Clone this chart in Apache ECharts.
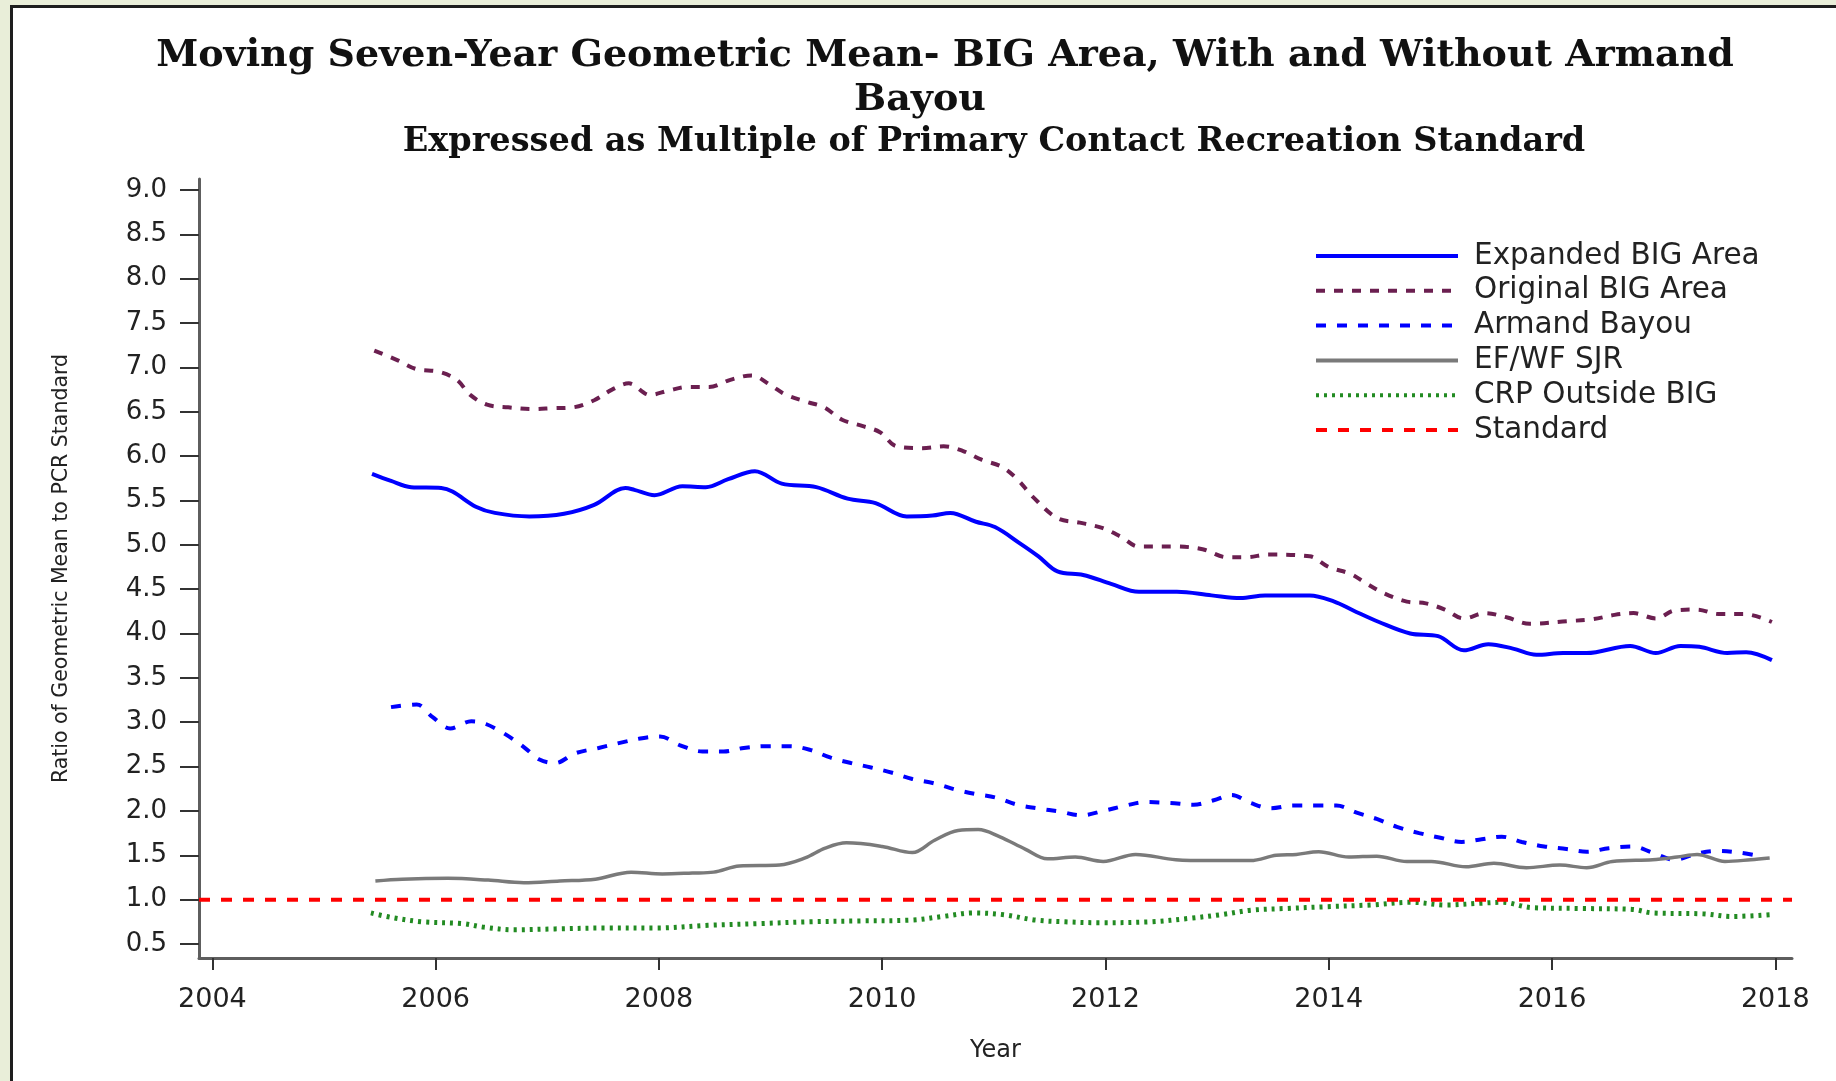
<!DOCTYPE html>
<html>
<head>
<meta charset="utf-8">
<title>Moving Seven-Year Geometric Mean</title>
<script src="https://cdn.jsdelivr.net/npm/echarts@6/dist/echarts.min.js"></script>
<style>
  html, body { margin: 0; padding: 0; background: #e9eed9; overflow: hidden; }
  #panel { position: absolute; left: 10px; top: 5px; width: 1900px; height: 1200px; background: #fff; border: 3px solid #1e1e1e; }
  #chart { position: absolute; left: 0; top: 0; width: 1836px; height: 1081px; }
</style>
</head>
<body>
<div id="panel"></div>
<div id="chart"></div>
<script>
  // axis ticks
  var yearTicks = [2004, 2006, 2008, 2010, 2012, 2014, 2016, 2018]
  var ratioTicks = [0.5, 1.0, 1.5, 2.0, 2.5, 3.0, 3.5, 4.0, 4.5, 5.0, 5.5, 6.0, 6.5, 7.0, 7.5, 8.0, 8.5, 9.0]

  // Expanded BIG Area
  var expandedYears = [2005.43, 2005.6, 2005.78, 2006.05, 2006.15, 2006.36, 2006.53, 2006.84, 2007.15, 2007.42,
    2007.70, 2007.78, 2007.96, 2008.21, 2008.42, 2008.62, 2008.86, 2009.10, 2009.41, 2009.69,
    2009.94, 2010.22, 2010.45, 2010.61, 2010.84, 2011.01, 2011.23, 2011.40, 2011.57, 2011.80,
    2012.05, 2012.30, 2012.64, 2012.95, 2013.21, 2013.43, 2013.83, 2014.05, 2014.22, 2014.45,
    2014.73, 2014.98, 2015.21, 2015.43, 2015.65, 2015.86, 2016.10, 2016.31, 2016.70, 2016.93,
    2017.15, 2017.32, 2017.57, 2017.74, 2017.97]
  var expandedValues = [5.80, 5.72, 5.65, 5.64, 5.60, 5.43, 5.36, 5.32, 5.35, 5.45,
    5.64, 5.62, 5.56, 5.66, 5.65, 5.74, 5.83, 5.69, 5.65, 5.52,
    5.47, 5.32, 5.33, 5.36, 5.26, 5.20, 5.02, 4.87, 4.70, 4.66,
    4.56, 4.47, 4.47, 4.43, 4.40, 4.43, 4.43, 4.36, 4.26, 4.13,
    4.00, 3.97, 3.81, 3.88, 3.83, 3.76, 3.78, 3.78, 3.86, 3.78,
    3.86, 3.85, 3.78, 3.79, 3.70]

  // Original BIG Area
  var originalYears = [2005.45, 2005.66, 2005.83, 2006.03, 2006.19, 2006.31, 2006.46, 2006.65, 2006.86, 2007.05,
    2007.23, 2007.42, 2007.58, 2007.73, 2007.92, 2008.09, 2008.26, 2008.45, 2008.64, 2008.83,
    2009.00, 2009.14, 2009.33, 2009.48, 2009.64, 2009.82, 2009.98, 2010.13, 2010.36, 2010.55,
    2010.72, 2010.89, 2011.07, 2011.21, 2011.35, 2011.57, 2011.77, 2011.97, 2012.14, 2012.30,
    2012.64, 2012.87, 2013.09, 2013.26, 2013.46, 2013.83, 2014.00, 2014.20, 2014.33, 2014.50,
    2014.70, 2014.87, 2015.04, 2015.21, 2015.40, 2015.60, 2015.80, 2016.14, 2016.36, 2016.56,
    2016.73, 2016.93, 2017.10, 2017.30, 2017.49, 2017.72, 2017.97]
  var originalValues = [7.19, 7.08, 6.98, 6.95, 6.86, 6.69, 6.58, 6.55, 6.53, 6.54,
    6.55, 6.63, 6.75, 6.82, 6.69, 6.74, 6.78, 6.78, 6.86, 6.91,
    6.80, 6.69, 6.61, 6.55, 6.41, 6.34, 6.27, 6.11, 6.09, 6.11,
    6.06, 5.96, 5.88, 5.74, 5.54, 5.30, 5.25, 5.19, 5.09, 4.98,
    4.98, 4.95, 4.86, 4.86, 4.89, 4.87, 4.75, 4.67, 4.57, 4.45,
    4.36, 4.34, 4.27, 4.17, 4.23, 4.18, 4.11, 4.14, 4.16, 4.21,
    4.23, 4.17, 4.26, 4.27, 4.22, 4.22, 4.13]

  // Armand Bayou
  var armandYears = [2005.60, 2005.83, 2005.97, 2006.13, 2006.32, 2006.45, 2006.63, 2006.79, 2006.93, 2007.07,
    2007.25, 2007.46, 2007.66, 2007.85, 2008.01, 2008.19, 2008.39, 2008.58, 2008.76, 2008.97,
    2009.17, 2009.35, 2009.54, 2009.72, 2009.90, 2010.09, 2010.27, 2010.47, 2010.66, 2010.84,
    2011.02, 2011.21, 2011.39, 2011.60, 2011.78, 2011.98, 2012.18, 2012.36, 2012.58, 2012.79,
    2012.97, 2013.13, 2013.30, 2013.48, 2013.68, 2013.89, 2014.07, 2014.25, 2014.43, 2014.61,
    2014.81, 2014.99, 2015.19, 2015.37, 2015.55, 2015.73, 2015.93, 2016.13, 2016.31, 2016.51,
    2016.72, 2016.90, 2017.10, 2017.30, 2017.48, 2017.68, 2017.86]
  var armandValues = [3.17, 3.20, 3.06, 2.93, 3.01, 2.98, 2.86, 2.72, 2.58, 2.54,
    2.65, 2.71, 2.77, 2.82, 2.84, 2.74, 2.67, 2.67, 2.71, 2.73,
    2.73, 2.69, 2.60, 2.54, 2.49, 2.43, 2.36, 2.31, 2.24, 2.19,
    2.15, 2.07, 2.03, 1.99, 1.95, 2.00, 2.06, 2.10, 2.09, 2.07,
    2.12, 2.18, 2.09, 2.03, 2.06, 2.06, 2.06, 1.98, 1.91, 1.82,
    1.75, 1.70, 1.65, 1.68, 1.71, 1.65, 1.60, 1.57, 1.54, 1.58,
    1.60, 1.53, 1.45, 1.52, 1.55, 1.53, 1.49]

  // EF/WF SJR
  var sjrYears = [2005.46, 2005.70, 2006.11, 2006.47, 2006.79, 2007.11, 2007.43, 2007.75, 2008.03, 2008.30,
    2008.49, 2008.72, 2009.08, 2009.31, 2009.49, 2009.68, 2010.00, 2010.27, 2010.47, 2010.68,
    2010.86, 2011.05, 2011.28, 2011.48, 2011.73, 2011.98, 2012.27, 2012.63, 2012.94, 2013.30,
    2013.53, 2013.71, 2013.91, 2014.18, 2014.43, 2014.70, 2014.92, 2015.23, 2015.48, 2015.77,
    2016.07, 2016.31, 2016.54, 2016.90, 2017.12, 2017.30, 2017.55, 2017.78, 2017.95]
  var sjrValues = [1.21, 1.23, 1.24, 1.22, 1.19, 1.21, 1.23, 1.31, 1.29, 1.30,
    1.31, 1.38, 1.39, 1.47, 1.58, 1.64, 1.60, 1.53, 1.67, 1.78,
    1.79, 1.71, 1.57, 1.46, 1.48, 1.43, 1.51, 1.45, 1.44, 1.44,
    1.50, 1.51, 1.54, 1.48, 1.49, 1.43, 1.43, 1.37, 1.41, 1.36,
    1.39, 1.36, 1.43, 1.45, 1.48, 1.51, 1.43, 1.45, 1.47]

  // CRP Outside BIG
  var crpYears = [2005.42, 2005.60, 2005.88, 2006.24, 2006.43, 2006.70, 2007.07, 2007.53, 2007.98, 2008.44,
    2008.90, 2009.35, 2009.81, 2010.27, 2010.54, 2010.82, 2011.09, 2011.37, 2011.64, 2011.95,
    2012.40, 2012.76, 2013.03, 2013.30, 2013.61, 2013.98, 2014.38, 2014.74, 2015.05, 2015.37,
    2015.55, 2015.82, 2016.27, 2016.72, 2016.90, 2017.35, 2017.61, 2017.95]
  var crpValues = [0.85, 0.80, 0.75, 0.73, 0.69, 0.66, 0.67, 0.68, 0.68, 0.71,
    0.73, 0.75, 0.76, 0.77, 0.81, 0.85, 0.83, 0.77, 0.75, 0.74,
    0.75, 0.79, 0.83, 0.88, 0.90, 0.92, 0.94, 0.97, 0.94, 0.96,
    0.97, 0.91, 0.90, 0.89, 0.85, 0.84, 0.81, 0.83]

  // Standard (ratio 1.0) across the whole axis
  var standardYears = [2003.88, 2018.15]
  var standardValues = [1.0, 1.0]

  function pairs(xs, ys) {
    return xs.map(function (x, i) { return [x, ys[i]] })
  }

  var sans = 'DejaVu Sans'
  var serif = 'DejaVu Serif'

  function lineSeries(name, xs, ys, color, width, type, smooth) {
    return {
      name: name,
      type: 'line',
      data: pairs(xs, ys),
      symbol: 'none',
      smooth: smooth,
      animation: false,
      lineStyle: { color: color, width: width, type: type, cap: 'butt' },
      itemStyle: { color: color }
    }
  }

  var chart = echarts.init(document.getElementById('chart'))

  chart.setOption({
    backgroundColor: 'transparent',
    title: [{
      text: 'Moving Seven-Year Geometric Mean- BIG Area, With and Without Armand',
      left: 945, top: 36, textAlign: 'center', padding: 0,
      textStyle: { fontFamily: serif, fontWeight: 'bold', fontSize: 38, lineHeight: 40, color: '#111' }
    }, {
      text: 'Bayou',
      left: 920, top: 80, textAlign: 'center', padding: 0,
      textStyle: { fontFamily: serif, fontWeight: 'bold', fontSize: 38, lineHeight: 40, color: '#111' }
    }, {
      text: 'Expressed as Multiple of Primary Contact Recreation Standard',
      left: 994, top: 125, textAlign: 'center', padding: 0,
      textStyle: { fontFamily: serif, fontWeight: 'bold', fontSize: 33.5, lineHeight: 34, color: '#111' }
    }],
    legend: {
      orient: 'vertical',
      left: 1309,
      top: 236,
      itemWidth: 142,
      itemHeight: 14,
      itemGap: 4.8,
      // hide the marker dot, keep only the styled line
      itemStyle: { opacity: 0 },
      lineStyle: { width: 4 },
      textStyle: { fontFamily: sans, fontSize: 29.5, lineHeight: 27, color: '#222', padding: [0, 0, 0, 11] },
      data: ['Expanded BIG Area', 'Original BIG Area', 'Armand Bayou', 'EF/WF SJR', 'CRP Outside BIG', 'Standard']
    },
    grid: {
      left: 199,
      right: 44,
      top: 179,
      bottom: 123,
      containLabel: false
    },
    xAxis: {
      type: 'value',
      min: 2003.88,
      max: 2018.15,
      name: 'Year',
      nameLocation: 'middle',
      nameGap: 81,
      nameTextStyle: { fontFamily: sans, fontSize: 24, color: '#222' },
      axisLine: { show: true, lineStyle: { color: '#5e5e5e', width: 3 } },
      axisTick: { show: true, customValues: yearTicks, length: 12, lineStyle: { color: '#333', width: 2 } },
      axisLabel: {
        customValues: yearTicks, margin: 28,
        fontFamily: sans, fontSize: 27, color: '#222',
        formatter: function (v) { return String(v) }
      },
      splitLine: { show: false }
    },
    yAxis: {
      type: 'value',
      min: 0.342,
      max: 9.124,
      name: 'Ratio of Geometric Mean to PCR Standard',
      nameLocation: 'middle',
      nameRotate: 90,
      nameGap: 127,
      nameTextStyle: { fontFamily: sans, fontSize: 20.5, color: '#222' },
      axisLine: { show: true, lineStyle: { color: '#5e5e5e', width: 3 } },
      axisTick: { show: true, customValues: ratioTicks, length: 19, lineStyle: { color: '#333', width: 2 } },
      axisLabel: {
        customValues: ratioTicks, margin: 32,
        fontFamily: sans, fontSize: 26, color: '#222',
        formatter: function (v) { return v.toFixed(1) }
      },
      splitLine: { show: false }
    },
    series: [
      lineSeries('Expanded BIG Area', expandedYears, expandedValues, '#0000ff', 4, 'solid', 0.35),
      lineSeries('Original BIG Area', originalYears, originalValues, '#6b1f50', 4, [9, 9], 0.35),
      lineSeries('Armand Bayou', armandYears, armandValues, '#0000ff', 4, [10, 11], 0.35),
      lineSeries('EF/WF SJR', sjrYears, sjrValues, '#7a7a7a', 3.5, 'solid', 0.35),
      lineSeries('CRP Outside BIG', crpYears, crpValues, '#228b22', 5, [3, 5], 0.35),
      lineSeries('Standard', standardYears, standardValues, '#ff0000', 4, [11, 11], false)
    ]
  })
</script>
</body>
</html>
